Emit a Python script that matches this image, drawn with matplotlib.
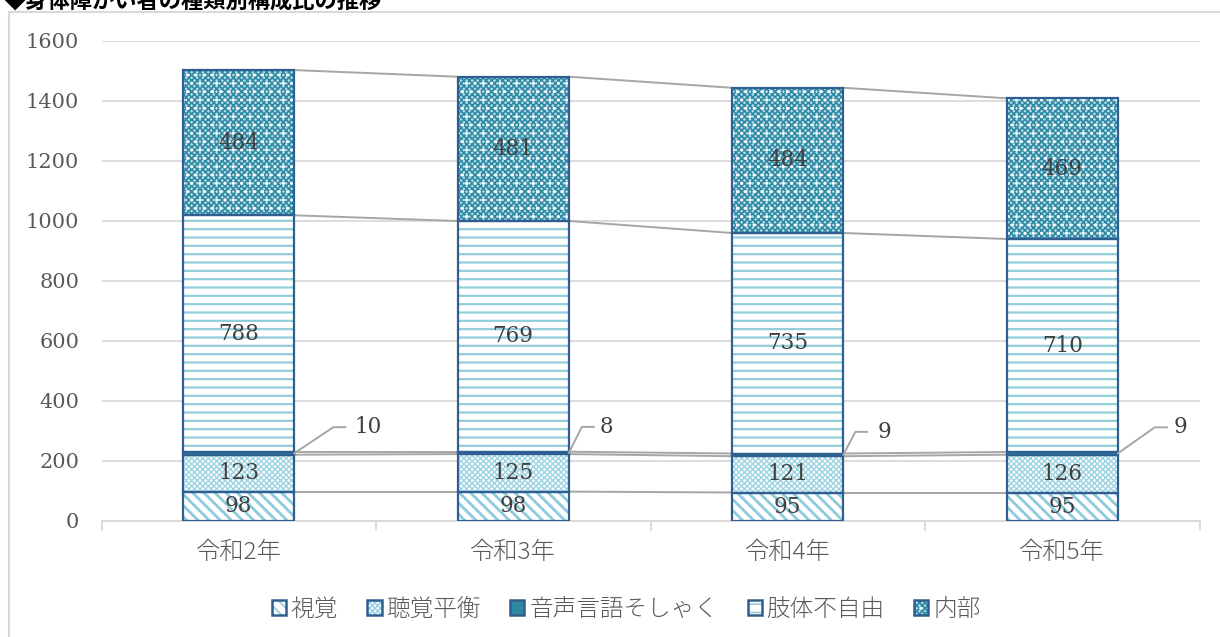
import matplotlib
matplotlib.use("Agg")
import matplotlib.pyplot as plt
import numpy as np
from matplotlib.patches import Rectangle, Patch

# ---- data ----
categories = ["令和2年", "令和3年", "令和4年", "令和5年"]
series_names = ["視覚", "聴覚平衡", "音声言語そしゃく", "肢体不自由", "内部"]
visual = [98, 98, 95, 95]
hearing = [123, 125, 121, 126]
speech = [10, 8, 9, 9]
physical = [788, 769, 735, 710]
internal = [484, 481, 484, 469]
y_ticks = [0, 200, 400, 600, 800, 1000, 1200, 1400, 1600]
title = "◆身体障がい者の種類別構成比の推移"

series_values = [visual, hearing, speech, physical, internal]

# ---- styles ----
EDGE = "#2F5F91"
LABEL = "#404040"
AXIS_TXT = "#595959"
GRID = "#D9D9D9"
SERIES_LINE = "#A6A6A6"
# (face, hatch, hatch colour, hatch linewidth, optional white dot overlay)
styles = [
    ("white", "\\\\\\", "#8CCBDD", 2.0, None),
    ("white", "xxxxxx", "#9DD3E3", 1.0, None),
    ("#2E87A0", "", "#2E87A0", 1.0, None),
    ("white", "--", "#92CDDC", 1.6, None),
    ("#B5DDEA", "xxxxxx", "#2E88A2", 1.15, ".."),
]

plt.rcParams["font.family"] = ["Noto Sans CJK JP", "DejaVu Sans"]
serif = ["DejaVu Serif"]

fig = plt.figure(figsize=(12.2, 6.37), dpi=100)
ax = fig.add_axes([101.5 / 1220, 1 - 521 / 637, 1098 / 1220, 480 / 637])

# chart frame and title
fig.patches.append(Rectangle((9 / 1220, -0.1), 2, 1.1 - 12 / 637,
                             transform=fig.transFigure, fill=False,
                             edgecolor=GRID, linewidth=1.5, zorder=0))
fig.text(4 / 1220, 1 - 1 / 637, title, fontsize=16, fontweight="bold",
         color="black", ha="left", va="center")

x = np.arange(len(categories))
width = 0.405
bottoms = np.zeros(len(categories))
cum_levels = []
handles = []
for vals, (face, hatch, hcol, hlw, dots) in zip(series_values, styles):
    vals = np.array(vals, dtype=float)
    plt.rcParams["hatch.linewidth"] = hlw
    ax.bar(x, vals, width, bottom=bottoms, color=face, edgecolor=hcol,
           hatch=hatch, linewidth=0, zorder=2)
    handle = [Patch(facecolor=face, edgecolor=hcol, hatch=hatch, linewidth=0)]
    if dots:
        ax.bar(x, vals, width, bottom=bottoms, fill=False, edgecolor="white",
               hatch=dots, linewidth=0, zorder=2.2)
        handle.append(Patch(fill=False, edgecolor="white", hatch=dots, linewidth=0))
    ax.bar(x, vals, width, bottom=bottoms, fill=False, edgecolor=EDGE,
           linewidth=1.6, zorder=3)
    handle.append(Patch(fill=False, edgecolor=EDGE, linewidth=1.8))
    handles.append(tuple(handle))
    bottoms = bottoms + vals
    cum_levels.append(bottoms.copy())

# series lines between neighbouring bars
for level in cum_levels:
    for i in range(len(categories) - 1):
        ax.plot([x[i] + width / 2, x[i + 1] - width / 2], [level[i], level[i + 1]],
                color=SERIES_LINE, linewidth=1.4, zorder=2.5, solid_capstyle="butt")

ax.set_xlim(-0.5, len(categories) - 0.5)
ax.set_ylim(0, 1600)
ax.set_yticks(y_ticks)
ax.set_yticklabels([str(v) for v in y_ticks], fontsize=15, color=AXIS_TXT,
                   family=serif)
ax.set_xticks(x)
ax.set_xticklabels(categories, fontsize=17.5, color=AXIS_TXT, fontweight="light")
ax.set_xticks(np.arange(-0.5, len(categories)), minor=True)
ax.tick_params(axis="y", length=0, pad=16)
ax.tick_params(axis="x", which="major", length=0, pad=14)
ax.tick_params(axis="x", which="minor", length=7, width=1.3, color=GRID)
ax.yaxis.grid(True, color=GRID, linewidth=1.3)
ax.set_axisbelow(True)
for s in ["left", "right", "top"]:
    ax.spines[s].set_visible(False)
ax.spines["bottom"].set_color(GRID)
ax.spines["bottom"].set_linewidth(1.3)

# value labels inside segments (skip the thin speech segment)
bottoms = np.zeros(len(categories))
for k, vals in enumerate(series_values):
    vals = np.array(vals, dtype=float)
    if k != 2:
        for i in range(len(categories)):
            ax.text(x[i], bottoms[i] + vals[i] / 2, f"{vals[i]:.0f}",
                    ha="center", va="center", fontsize=15.5, color=LABEL,
                    family=serif, zorder=5)
    bottoms = bottoms + vals

# callout labels for the speech segment (pixel offsets from bar edge)
speech_mid = np.array(visual) + np.array(hearing) + np.array(speech) / 2
callout_dx = [(39, 51, 60), (13, 25, 31), (12, 24, 34), (37, 49, 56)]
callout_dy = [-26, -26, -23, -26]
to_px = ax.transData.transform
to_data = ax.transData.inverted().transform
for i in range(len(categories)):
    x0, y0 = to_px((x[i] + width / 2, speech_mid[i]))
    d1, d2, dt = callout_dx[i]
    dy = callout_dy[i]
    pts = to_data([(x0, y0), (x0 + d1, y0 - dy), (x0 + d2, y0 - dy)])
    ax.plot(pts[:, 0], pts[:, 1], color=SERIES_LINE, linewidth=1.4, zorder=4,
            clip_on=False)
    tx, ty = to_data((x0 + dt, y0 - dy))
    ax.text(tx, ty, f"{speech[i]}", ha="left", va="center", fontsize=15.5,
            color=LABEL, family=serif, zorder=5)

fig.legend(handles, series_names, loc="center",
           bbox_to_anchor=(626 / 1220, 1 - 609 / 637),
           ncol=5, frameon=False, labelcolor=AXIS_TXT,
           prop={"weight": "light", "size": 17},
           handlelength=0.6, handleheight=0.6, handletextpad=0.2,
           columnspacing=1.25)

fig.savefig("out.png", dpi=100)
